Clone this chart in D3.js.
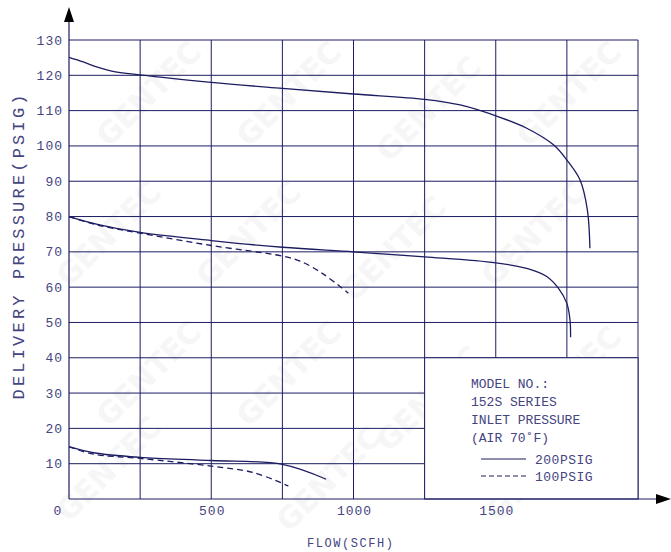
<!DOCTYPE html>
<html><head><meta charset="utf-8">
<script src="https://cdn.jsdelivr.net/npm/d3@7"></script>
<style>body{margin:0;background:#fff}svg{display:block}</style>
</head><body>
<svg id="c" width="671" height="552"></svg>
<script>
// ---- data ----
const xTicks = [0, 500, 1000, 1500];
const xGrid = [250, 500, 750, 1000, 1250, 1500, 1750, 2000];
const yTicks = [0,10,20,30,40,50,60,70,80,90,100,110,120,130];

const flow200High = [0,50,100,150,250,500,750,1000,1250,1375,1515,1609,1703,1750,1796,1822,1831];
const psi200High  = [125.1,123.8,122.3,121.2,120.1,118.0,116.3,114.7,113.2,111.6,108.1,105.0,100.3,96.0,90.4,81.9,71.0];

const flow200Mid = [0,100,250,500,750,1000,1250,1500,1609,1679,1720,1750,1761,1763];
const psi200Mid  = [80.0,77.8,75.5,73.2,71.3,70.0,68.6,66.9,65.3,63.0,59.7,55.4,50.7,45.8];

const flow100Mid = [0,100,250,500,750,812,894,982];
const psi100Mid  = [80.0,77.6,75.3,71.8,68.8,67.4,63.7,58.3];

const flow200Low = [0,86,250,500,750,904];
const psi200Low  = [14.8,13.1,11.8,10.9,9.8,5.6];

const flow100Low = [0,86,250,500,648,771];
const psi100Low  = [14.8,12.7,11.5,9.3,7.5,3.7];

const legendLines = ["MODEL NO.:", "152S SERIES", "INLET PRESSURE", "(AIR 70˚F)"];
const seriesNames = ["200PSIG", "100PSIG"];
const watermarkText = "GENTEC";

// ---- drawing ----
const svg = d3.select("#c");
const lineCol = "#1c1c62", textCol = "#44447f";
const font = "'Courier New','Liberation Mono',monospace";
const x = d3.scaleLinear().domain([0, 2000]).range([69, 638]);
const y = d3.scaleLinear().domain([0, 130]).range([499, 40]);

// watermark (faint, fully inside the page)
const wm = svg.append("g");
const wmPos = [[150,95],[290,95],[430,110],[570,95],[110,235],[250,235],[395,250],[535,235],
               [150,375],[290,375],[430,400],[570,380],[110,470],[330,480],[540,470]];
wmPos.forEach(([cx, cy]) => {
  wm.append("text").attr("transform", `translate(${cx},${cy}) rotate(-45)`)
    .attr("text-anchor", "middle").attr("dominant-baseline", "middle")
    .attr("font-family", "'DejaVu Sans',sans-serif")
    .attr("font-weight", "bold").attr("font-size", 30).attr("fill", "#f6f6f6")
    .text(watermarkText);
});

// grid
const g = svg.append("g").attr("stroke", lineCol).attr("stroke-width", 1);
yTicks.filter(d => d > 0).forEach(d => {
  g.append("line").attr("x1", x(0)).attr("x2", x(2000)).attr("y1", y(d)).attr("y2", y(d));
});
xGrid.forEach(d => {
  g.append("line").attr("x1", x(d)).attr("x2", x(d)).attr("y1", y(0)).attr("y2", y(130));
});

// legend box (covers grid)
svg.append("rect").attr("x", x(1250)).attr("y", y(40)).attr("width", x(2000) - x(1250))
  .attr("height", y(0) - y(40)).attr("fill", "#fff").attr("stroke", lineCol).attr("stroke-width", 1);

// axes
const ax = svg.append("g");
ax.append("line").attr("x1", x(0)).attr("x2", 660).attr("y1", y(0)).attr("y2", y(0)).attr("stroke", lineCol).attr("stroke-width", 1.2);
ax.append("line").attr("x1", x(0)).attr("x2", x(0)).attr("y1", y(0)).attr("y2", 20).attr("stroke", lineCol).attr("stroke-width", 1.2);
ax.append("path").attr("d", `M${x(0)},7 L${x(0)-5},22 L${x(0)+5},22 Z`).attr("fill", "#000");
ax.append("path").attr("d", `M671,${y(0)} L656,${y(0)-5} L656,${y(0)+5} Z`).attr("fill", "#000");

// tick labels
const tl = svg.append("g").attr("font-family", font).attr("font-size", 13).attr("fill", textCol).attr("letter-spacing", 1);
yTicks.filter(d => d > 0).forEach(d => {
  tl.append("text").attr("x", 63).attr("y", y(d) + 4.5).attr("text-anchor", "end").text(d);
});
xTicks.forEach(d => {
  tl.append("text").attr("x", d === 0 ? 58 : x(d) + 1).attr("y", 515).attr("text-anchor", "middle").text(d);
});

// axis titles
svg.append("text").attr("x", 350).attr("y", 547).attr("text-anchor", "middle")
  .attr("font-family", font).attr("font-size", 12).attr("fill", textCol)
  .attr("textLength", 86).attr("lengthAdjust", "spacing").text("FLOW(SCFH)");
svg.append("text").attr("transform", "translate(24,247) rotate(-90)").attr("text-anchor", "middle")
  .attr("font-family", font).attr("font-size", 17).attr("fill", textCol)
  .attr("textLength", 305).attr("lengthAdjust", "spacing").text("DELIVERY PRESSURE(PSIG)");

// curves
const line = d3.line().x(d => x(d[0])).y(d => y(d[1])).curve(d3.curveCatmullRom.alpha(0.5));
const zip = (a, b) => a.map((v, i) => [v, b[i]]);
const curves = [
  [flow200High, psi200High, null],
  [flow200Mid, psi200Mid, null],
  [flow100Mid, psi100Mid, "6,4"],
  [flow200Low, psi200Low, null],
  [flow100Low, psi100Low, "6,4"]
];
curves.forEach(([fx, py, dash]) => {
  svg.append("path").attr("d", line(zip(fx, py))).attr("fill", "none")
    .attr("stroke", lineCol).attr("stroke-width", 1.3)
    .attr("stroke-dasharray", dash);
});

// legend text
const lg = svg.append("g").attr("font-family", font).attr("font-size", 13).attr("fill", textCol);
legendLines.forEach((t, i) => {
  lg.append("text").attr("x", 471).attr("y", 388 + i * 18).text(t);
});
[[null, 459], ["5,3", 476]].forEach(([dash, yy], i) => {
  svg.append("line").attr("x1", 481).attr("x2", 526).attr("y1", yy).attr("y2", yy)
    .attr("stroke", lineCol).attr("stroke-width", 1.2).attr("stroke-dasharray", dash);
  lg.append("text").attr("x", 535).attr("y", yy + 4.5).attr("letter-spacing", 0.5).text(seriesNames[i]);
});
</script>
</body></html>
